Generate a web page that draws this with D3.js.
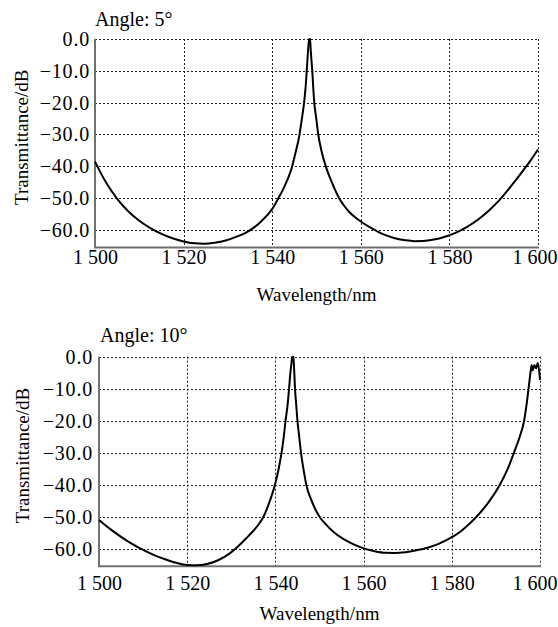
<!DOCTYPE html>
<html>
<head>
<meta charset="utf-8">
<script src="https://cdn.jsdelivr.net/npm/d3@7/dist/d3.min.js"></script>
<style>
  html, body { margin: 0; padding: 0; background: #fff; }
  svg text { font-family: "Liberation Serif", "Times New Roman", serif; fill: #000; }
</style>
</head>
<body>
<svg id="chart" width="558" height="627"></svg>
<script>
// ---- data ----
const xTicks = [1500, 1520, 1540, 1560, 1580, 1600];
const yTicks = [0, -10, -20, -30, -40, -50, -60];

const wavelength5 = [1500, 1502.5, 1505, 1507.5, 1510, 1512.5, 1515, 1517.5, 1520, 1522.5, 1524.5, 1527, 1529.5, 1532, 1534, 1536, 1537.5, 1539, 1540.3, 1541.4, 1542.3, 1543, 1543.7, 1544.4, 1545.3, 1546.1, 1546.65, 1547.2, 1547.55, 1547.8, 1548.0, 1548.2, 1548.35, 1548.45, 1548.55, 1548.7, 1548.85, 1549.05, 1549.25, 1549.5, 1549.95, 1550.4, 1551.1, 1552.1, 1553.45, 1555.1, 1556.2, 1557.5, 1559, 1560.5, 1562.5, 1565, 1567.5, 1570, 1572, 1574, 1576.5, 1579, 1581.5, 1584, 1586.5, 1589, 1591.5, 1594, 1596.5, 1598.5, 1600];
const trans5 = [-38.5, -45.1, -50.2, -54.1, -57.1, -59.4, -61.2, -62.6, -63.6, -64.2, -64.35, -64.0, -63.3, -62.1, -60.9, -59.1, -57.3, -55.2, -52.8, -50, -47.7, -45.6, -43.3, -40.5, -35.5, -30.5, -25.5, -20, -15, -10, -5.5, -1.8, 0, -0.4, 0, -3.5, -6.5, -10, -15, -20, -25, -30, -35, -40, -45, -50, -52.3, -54.5, -56.3, -57.8, -59.5, -61.3, -62.5, -63.2, -63.5, -63.45, -63.0, -62.1, -60.8, -59.0, -56.7, -53.8, -50.3, -46.1, -41.6, -37.8, -34.7];

const wavelength10 = [1500, 1502.5, 1505, 1507.5, 1510, 1512.5, 1515, 1517.5, 1520, 1522, 1524.5, 1527, 1529.5, 1531.5, 1533.5, 1535, 1536.3, 1537.3, 1538.76, 1539.9, 1540.74, 1541.4, 1541.9, 1542.3, 1542.77, 1543.1, 1543.4, 1543.65, 1543.8, 1543.95, 1544.1, 1544.25, 1544.45, 1544.72, 1545.0, 1545.4, 1545.8, 1546.35, 1547.0, 1548.2, 1550.0, 1551.5, 1553.2, 1555.2, 1557.5, 1560, 1562.5, 1565, 1567, 1569.5, 1572, 1574.5, 1577, 1579.5, 1582, 1584, 1585.6, 1588.6, 1590.9, 1592.7, 1594.1, 1595.4, 1596.4, 1596.95, 1597.4, 1597.75, 1598.1, 1598.35, 1598.7, 1599.1, 1599.5, 1600];
const trans10 = [-51.0, -53.8, -56.3, -58.5, -60.4, -62.0, -63.3, -64.4, -65.1, -65.2, -64.8, -63.6, -61.6, -59.3, -56.6, -54.4, -52.2, -50, -45, -40, -35, -30, -25, -20, -15, -10, -5, -2, 0, -0.8, 0, -4, -10, -15, -20, -25, -30, -35, -40, -45, -50, -52.5, -54.8, -56.8, -58.5, -59.9, -60.8, -61.3, -61.35, -61.1, -60.5, -59.7, -58.5, -56.8, -54.6, -52.2, -50, -45, -40, -35, -30, -25, -20, -15, -10, -6, -2.6, -4.3, -2.6, -3.6, -2.0, -7.3];

const panels = [
  { title: "Angle: 5°", xs: wavelength5, ys: trans5,
    left: 95, right: 538, top: 39, bottom: 247.5,
    titleX: 95, titleY: 26, xLabelY: 264, xTitleY: 301, yTitleX: 28, yLabelGap: 5 },
  { title: "Angle: 10°", xs: wavelength10, ys: trans10,
    left: 99, right: 540, top: 356.7, bottom: 566.3,
    titleX: 100, titleY: 342, xLabelY: 590, xTitleY: 620, yTitleX: 29, yLabelGap: 6 }
];

const svg = d3.select("#chart");
const fmtY = v => v === 0 ? "0.0" : "\u2212" + Math.abs(v).toFixed(1);
const fmtX = v => String(v).replace(/^(\d)(\d{3})$/, "$1 $2");

panels.forEach(p => {
  const x = d3.scaleLinear().domain([1500, 1600]).range([p.left, p.right]);
  const y = d3.scaleLinear().domain([-65.5, 0]).range([p.bottom, p.top]);
  const g = svg.append("g");

  // dotted grid
  g.append("g").selectAll("line").data(yTicks).join("line")
    .attr("x1", p.left).attr("x2", p.right)
    .attr("y1", d => Math.round(y(d)) + 0.5).attr("y2", d => Math.round(y(d)) + 0.5)
    .attr("stroke", "#222").attr("stroke-width", 1).attr("stroke-dasharray", "2,2");
  g.append("g").selectAll("line").data(xTicks.slice(1)).join("line")
    .attr("y1", p.top).attr("y2", p.bottom)
    .attr("x1", d => Math.round(x(d)) + 0.5).attr("x2", d => Math.round(x(d)) + 0.5)
    .attr("stroke", "#222").attr("stroke-width", 1).attr("stroke-dasharray", "2,2");

  // axes (labels only, solid grey axis lines)
  const yAxis = d3.axisLeft(y).tickValues(yTicks).tickFormat(fmtY).tickSize(0).tickPadding(p.yLabelGap);
  const ya = g.append("g").attr("transform", `translate(${p.left},0)`).call(yAxis);
  ya.select(".domain").remove();
  ya.selectAll("text").attr("font-size", 20).attr("font-family", "Liberation Serif")
    .attr("letter-spacing", "0.8px");

  const xAxis = d3.axisBottom(x).tickValues(xTicks).tickFormat(fmtX).tickSize(0).tickPadding(0);
  const xa = g.append("g").attr("transform", `translate(0,${p.bottom})`).call(xAxis);
  xa.select(".domain").remove();
  xa.selectAll("text").attr("font-size", 20).attr("font-family", "Liberation Serif")
    .attr("dy", null).attr("y", p.xLabelY - p.bottom);
  // keep the last label inside the picture
  xa.selectAll(".tick").filter(d => d === 1600).select("text")
    .attr("text-anchor", "end").attr("x", 557 - x(1600));

  g.append("line").attr("x1", p.left).attr("x2", p.left).attr("y1", p.top).attr("y2", p.bottom)
    .attr("stroke", "#707070").attr("stroke-width", 2);
  g.append("line").attr("x1", p.left - 1).attr("x2", p.right + 1).attr("y1", p.bottom).attr("y2", p.bottom)
    .attr("stroke", "#707070").attr("stroke-width", 2);

  // curve
  const pts = p.xs.map((d, i) => [d, p.ys[i]]);
  g.append("path").datum(pts)
    .attr("fill", "none").attr("stroke", "#000").attr("stroke-width", 2)
    .attr("stroke-linejoin", "round")
    .attr("d", d3.line().x(d => x(d[0])).y(d => y(d[1])).curve(d3.curveMonotoneX));

  // titles
  g.append("text").attr("x", p.titleX).attr("y", p.titleY).attr("font-size", 20).text(p.title);
  g.append("text").attr("x", (p.left + p.right) / 2).attr("y", p.xTitleY)
    .attr("text-anchor", "middle").attr("font-size", 19).text("Wavelength/nm");
  g.append("text").attr("transform", `translate(${p.yTitleX},${(p.top + p.bottom) / 2 - 6}) rotate(-90)`)
    .attr("text-anchor", "middle").attr("font-size", 19).text("Transmittance/dB");
});
</script>
</body>
</html>
